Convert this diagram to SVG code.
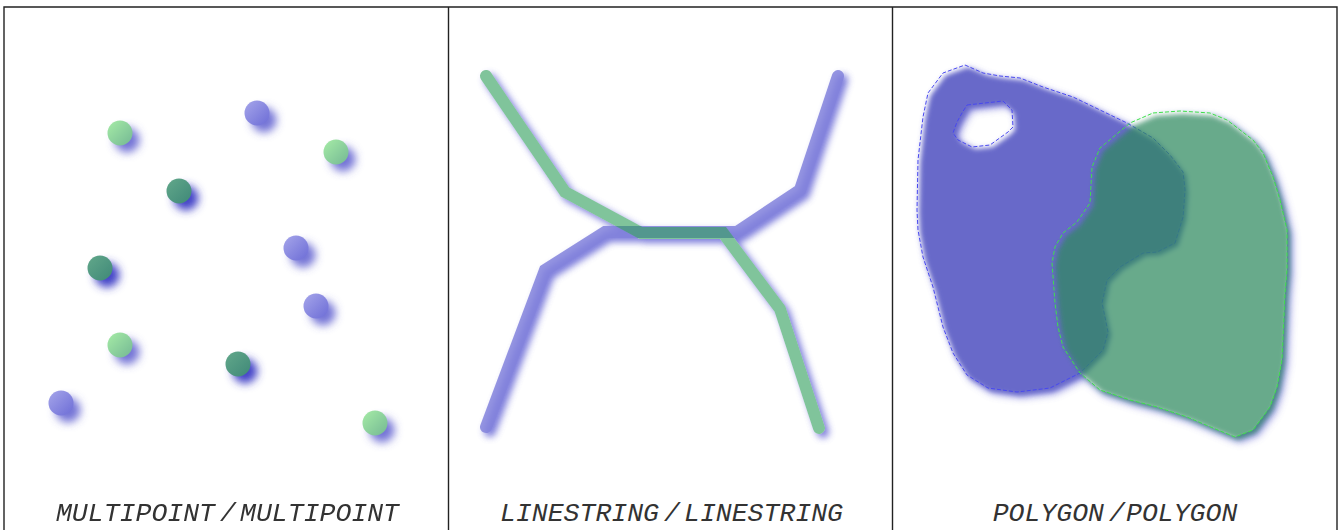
<svg xmlns="http://www.w3.org/2000/svg" width="1341" height="530" viewBox="0 0 1341 530">
<style>
.frame{fill:none;stroke:#222;stroke-width:1.4}
.lbl{font-family:"Liberation Mono","Courier New",monospace;font-style:italic;font-size:26.5px;fill:#333}
.psh{fill:#5252cc;opacity:.8}
.psh2{fill:#3a3ac4;opacity:.95}
.ln{fill:none;stroke-width:12;stroke-linecap:round;stroke-linejoin:miter}
</style>
<defs>
<linearGradient id="gBlue" x1="0" y1="0" x2="1" y2="1">
<stop offset="0" stop-color="#a6a6ea"/><stop offset="1" stop-color="#6c6cd6"/>
</linearGradient>
<linearGradient id="gGreen" x1="0" y1="0" x2="1" y2="1">
<stop offset="0" stop-color="#a6eca6"/><stop offset="1" stop-color="#74b894"/>
</linearGradient>
<linearGradient id="gDark" x1="0" y1="0" x2="1" y2="1">
<stop offset="0" stop-color="#62a88a"/><stop offset="1" stop-color="#3f8878"/>
</linearGradient>
<filter id="blurP" x="-50%" y="-50%" width="200%" height="200%"><feGaussianBlur stdDeviation="4.5"/></filter>
<filter id="blurL" x="-10%" y="-10%" width="120%" height="120%"><feGaussianBlur stdDeviation="3.5"/></filter>
<filter id="blurS" x="-10%" y="-10%" width="120%" height="120%"><feGaussianBlur stdDeviation="4.5"/></filter>
<filter id="soft" x="-10%" y="-10%" width="120%" height="120%"><feOffset dx="2.5" dy="2.5"/><feGaussianBlur stdDeviation="2.8"/></filter>
<path id="bluePoly" fill-rule="evenodd" d="M965,65 L983,73 L1000,76 L1020,78 L1043,87 L1073,97 L1100,110 L1127,123 L1153,138 L1170,155 L1183,172 L1185,190 L1183,217 L1175,243 L1157,252 L1143,253 L1120,267 L1107,280 L1102,303 L1108,332 L1103,350 L1080,373 L1050,388 L1017,392 L988,388 L967,375 L953,353 L943,327 L933,287 L923,257 L918,230 L917,210 L918,160 L923,117 L928,93 L943,73 Z M967,105 L1003,101 L1012,110 L1013,127 L1008,132 L990,145 L972,147 L958,140 L953,133 L957,122 L962,113 Z"/>
<path id="greenPoly" d="M1153,113 L1180,111 L1210,113 L1227,120 L1253,140 L1263,153 L1273,177 L1280,200 L1287,230 L1287,270 L1285,293 L1282,360 L1277,387 L1270,407 L1253,430 L1235,437 L1213,428 L1187,417 L1157,407 L1130,400 L1100,390 L1080,373 L1063,347 L1058,327 L1055,303 L1052,263 L1055,247 L1063,233 L1077,222 L1090,203 L1092,167 L1100,148 L1130,123 Z"/>
<path id="blueLine" d="M486,427 L545,270 L605,232 L737,232 L800,190 L838,76"/>
<path id="greenLine" d="M486,76 L565,192 L641,233 L723,233 L780,309 L819,428"/>
<mask id="mGreenPoly" maskUnits="userSpaceOnUse" x="892" y="0" width="449" height="530">
<rect x="892" y="0" width="449" height="530" fill="#fff"/>
<use href="#greenPoly" fill="#000"/>
</mask>
<mask id="mGreenLine" maskUnits="userSpaceOnUse" x="448" y="0" width="444" height="530">
<rect x="448" y="0" width="444" height="530" fill="#fff"/>
<use href="#greenLine" fill="none" stroke="#000" stroke-width="12" stroke-linecap="round"/>
</mask>
</defs>
<rect x="0" y="0" width="1341" height="530" fill="#fff"/>

<g id="frame">
<path class="frame" d="M4,531 L4,7 L1337,7 L1337,531 M448.5,7 L448.5,531 M892.5,7 L892.5,531"/>
</g>

<g id="panel-multipoint">
<g id="point-shadows" filter="url(#blurP)">
<circle class="psh" cx="127" cy="140" r="12.5"/>
<circle class="psh" cx="264" cy="120" r="12.5"/>
<circle class="psh" cx="343" cy="159" r="12.5"/>
<circle class="psh2" cx="186" cy="198" r="12.5"/>
<circle class="psh" cx="303" cy="255" r="12.5"/>
<circle class="psh2" cx="107" cy="275" r="12.5"/>
<circle class="psh" cx="323" cy="313" r="12.5"/>
<circle class="psh" cx="127" cy="352" r="12.5"/>
<circle class="psh2" cx="245" cy="371" r="12.5"/>
<circle class="psh" cx="68" cy="410" r="12.5"/>
<circle class="psh" cx="382" cy="430" r="12.5"/>
</g>
<g id="points-blue" fill="url(#gBlue)">
<circle cx="257" cy="113" r="12.5"/>
<circle cx="296" cy="248" r="12.5"/>
<circle cx="316" cy="306" r="12.5"/>
<circle cx="61" cy="403" r="12.5"/>
</g>
<g id="points-green" fill="url(#gGreen)">
<circle cx="120" cy="133" r="12.5"/>
<circle cx="336" cy="152" r="12.5"/>
<circle cx="120" cy="345" r="12.5"/>
<circle cx="375" cy="423" r="12.5"/>
</g>
<g id="points-common" fill="url(#gDark)">
<circle cx="179" cy="191" r="12.5"/>
<circle cx="100" cy="268" r="12.5"/>
<circle cx="238" cy="364" r="12.5"/>
</g>
<text class="lbl" x="215" y="521" text-anchor="end">MULTIPOINT</text>
<text class="lbl" x="228" y="521" text-anchor="middle">/</text>
<text class="lbl" x="240" y="521">MULTIPOINT</text>
</g>

<g id="panel-linestring">
<g id="line-shadows" mask="url(#mGreenLine)">
<g filter="url(#blurL)" transform="translate(4,4)" opacity="0.8">
<use href="#blueLine" class="ln" stroke="#5a5ad2"/>
<use href="#greenLine" class="ln" stroke="#5a5ad2"/>
</g>
</g>
<g id="line-blue"><use href="#blueLine" class="ln" stroke="#8282dc" stroke-opacity="0.85"/></g>
<g id="line-green"><use href="#greenLine" class="ln" stroke="#249953" stroke-opacity="0.58"/></g>
<text class="lbl" x="659" y="521" text-anchor="end">LINESTRING</text>
<text class="lbl" x="672" y="521" text-anchor="middle">/</text>
<text class="lbl" x="684" y="521">LINESTRING</text>
</g>

<g id="panel-polygon">
<g id="poly-shadows" mask="url(#mGreenPoly)">
<g filter="url(#blurS)" transform="translate(5,5)" opacity="0.75">
<use href="#bluePoly" fill="#5a5ad0"/>
<use href="#greenPoly" fill="#5a5ad0"/>
</g>
</g>
<g id="poly-blue">
<use href="#bluePoly" fill="#6869c9" filter="url(#soft)"/>
<use href="#bluePoly" fill="none" stroke="#4848f0" stroke-width="1" stroke-dasharray="4 2"/>
</g>
<g id="poly-green">
<use href="#greenPoly" fill="#2f895e" fill-opacity="0.72" filter="url(#soft)"/>
<use href="#greenPoly" fill="none" stroke="#3ee04a" stroke-width="1" stroke-dasharray="4 2"/>
</g>
<text class="lbl" x="1104" y="521" text-anchor="end">POLYGON</text>
<text class="lbl" x="1117" y="521" text-anchor="middle">/</text>
<text class="lbl" x="1126" y="521">POLYGON</text>
</g>
</svg>
